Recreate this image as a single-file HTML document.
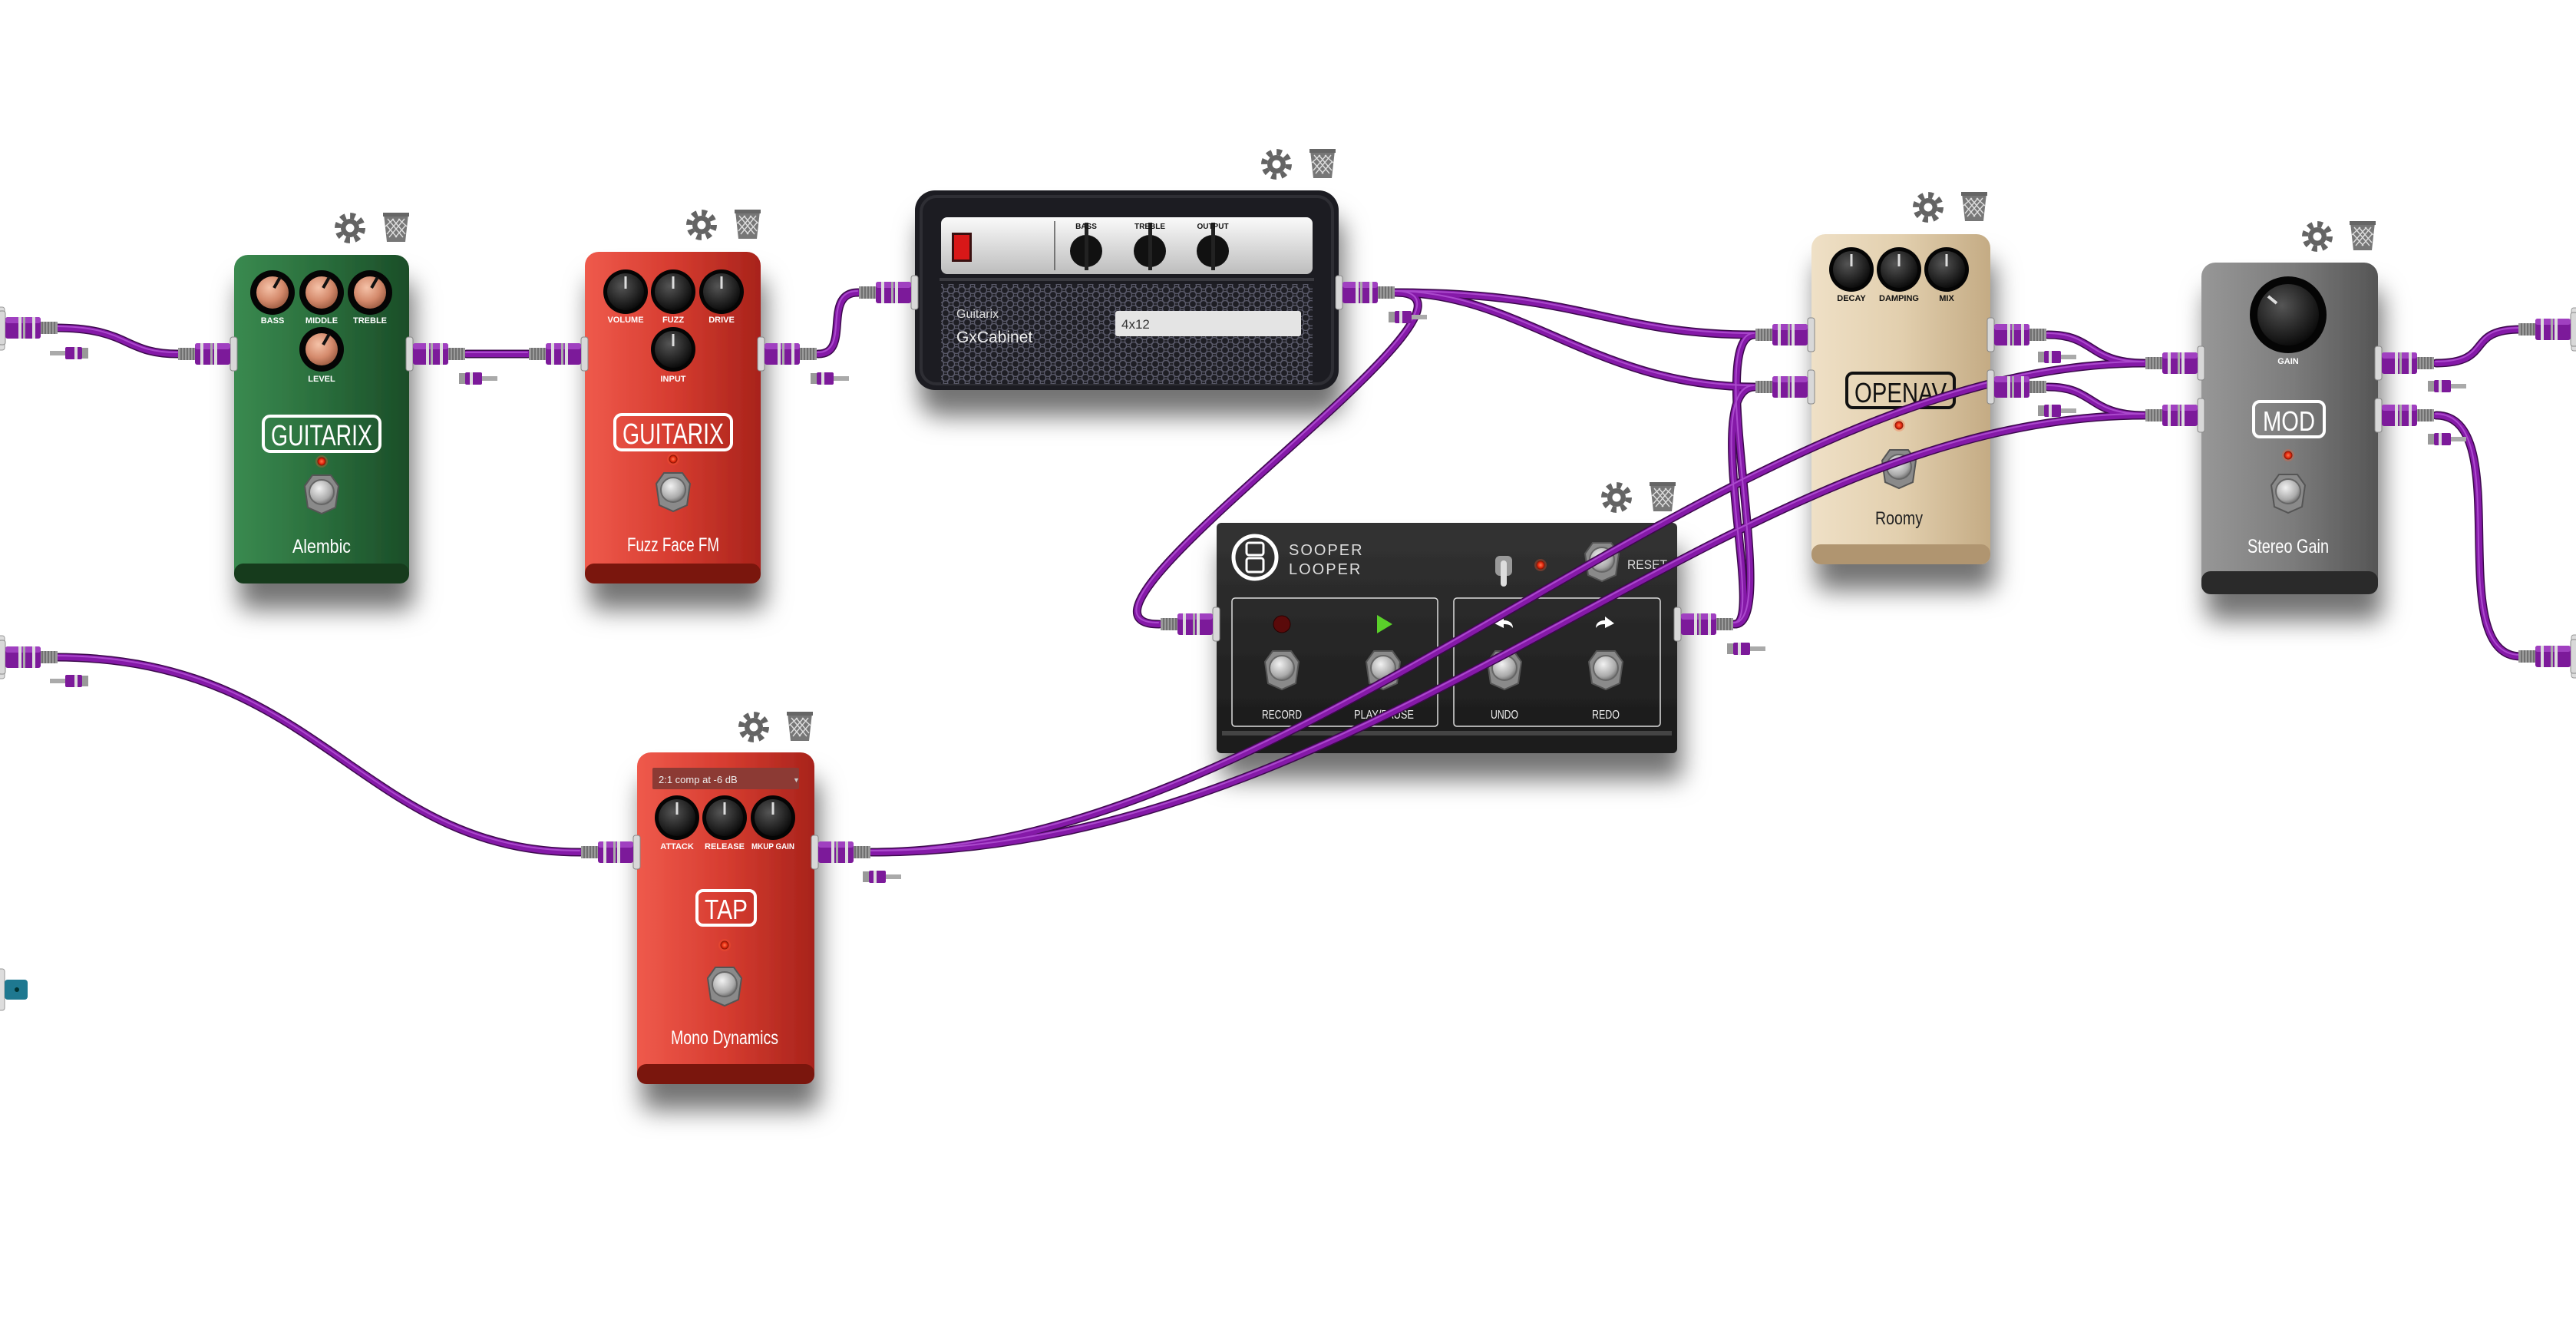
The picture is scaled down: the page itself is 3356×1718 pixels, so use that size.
<!DOCTYPE html>
<html><head><meta charset="utf-8">
<style>
html,body{margin:0;padding:0;background:#fff;}
svg{display:block;}
text{font-family:"Liberation Sans",sans-serif;}
.lbl{fill:#fff;font-size:11px;text-anchor:middle;font-weight:bold}
</style></head>
<body>
<svg width="3356" height="1718" viewBox="0 0 3356 1718" xmlns="http://www.w3.org/2000/svg">
<defs>
<filter id="sh" x="-30%" y="-20%" width="160%" height="160%">
<feDropShadow dx="6" dy="34" stdDeviation="16" flood-color="#000" flood-opacity="0.55"/>
</filter>
<linearGradient id="gGreen" x1="0" x2="1"><stop offset="0" stop-color="#3a8a50"/><stop offset=".5" stop-color="#2a6e3c"/><stop offset="1" stop-color="#1b4d28"/></linearGradient>
<linearGradient id="gRed" x1="0" x2="1"><stop offset="0" stop-color="#ef5a4c"/><stop offset=".5" stop-color="#d63c30"/><stop offset="1" stop-color="#a8231b"/></linearGradient>
<linearGradient id="gCream" x1="0" x2="1"><stop offset="0" stop-color="#efe0c6"/><stop offset=".5" stop-color="#e2cfae"/><stop offset="1" stop-color="#c4ab84"/></linearGradient>
<linearGradient id="gGray" x1="0" x2="1"><stop offset="0" stop-color="#979797"/><stop offset=".5" stop-color="#7d7d7d"/><stop offset="1" stop-color="#555"/></linearGradient>
<linearGradient id="gDark" x1="0" y1="0" x2="0" y2="1"><stop offset="0" stop-color="#333"/><stop offset="1" stop-color="#1a1a1a"/></linearGradient>
<linearGradient id="gSilver" x1="0" y1="0" x2="0" y2="1"><stop offset="0" stop-color="#fafafa"/><stop offset="1" stop-color="#bdbdbd"/></linearGradient>
<radialGradient id="gKnob" cx=".4" cy=".35" r=".7"><stop offset="0" stop-color="#555"/><stop offset="1" stop-color="#080808"/></radialGradient>
<radialGradient id="gCopper" cx=".4" cy=".35" r=".7"><stop offset="0" stop-color="#f5c2a8"/><stop offset=".6" stop-color="#d48a6c"/><stop offset="1" stop-color="#9a5a40"/></radialGradient>
<radialGradient id="gFoot" cx=".4" cy=".35" r=".7"><stop offset="0" stop-color="#f2f2f2"/><stop offset=".7" stop-color="#aaa"/><stop offset="1" stop-color="#666"/></radialGradient>
<radialGradient id="gLed" cx=".5" cy=".5" r=".5"><stop offset="0" stop-color="#ff7a50"/><stop offset=".6" stop-color="#e52a10"/><stop offset="1" stop-color="#7a1000"/></radialGradient>
<pattern id="hex" width="14" height="12" patternUnits="userSpaceOnUse"><rect width="14" height="12" fill="#1e1e24"/><circle cx="7" cy="6" r="4.5" fill="none" stroke="#5a5a6a" stroke-width="1.3"/><circle cx="0" cy="0" r="4.5" fill="none" stroke="#5a5a6a" stroke-width="1.3"/><circle cx="14" cy="0" r="4.5" fill="none" stroke="#5a5a6a" stroke-width="1.3"/><circle cx="0" cy="12" r="4.5" fill="none" stroke="#5a5a6a" stroke-width="1.3"/><circle cx="14" cy="12" r="4.5" fill="none" stroke="#5a5a6a" stroke-width="1.3"/></pattern>

<g id="kb"><circle r="29" fill="#050505"/><circle r="24" fill="url(#gKnob)"/><line x1="0" y1="-4" x2="0" y2="-20" stroke="#ddd" stroke-width="3"/></g>
<g id="kc"><circle r="29" fill="#050505"/><circle r="21" fill="url(#gCopper)"/><line x1="2" y1="-6" x2="10" y2="-20" stroke="#111" stroke-width="4"/></g>
<g id="fs"><polygon points="-22,-10 -12,-24 12,-24 22,-10 18,18 0,26 -18,18" fill="#8a8a8a" stroke="#555" stroke-width="2"/><circle r="16" cy="-2" fill="url(#gFoot)" stroke="#666" stroke-width="2"/></g>
<g id="led"><circle r="8" fill="#ff5a30" opacity=".3"/><circle r="5.5" fill="url(#gLed)"/></g>
<g id="plug">
<rect x="-4" y="-22" width="9" height="44" rx="3" fill="#d8d8d8" stroke="#888"/>
<rect x="5" y="-14" width="46" height="28" rx="3" fill="#7c1a9a"/>
<rect x="5" y="-14" width="46" height="8" rx="3" fill="#a040c0"/>
<rect x="22" y="-14" width="4" height="28" fill="#ddd"/><rect x="28" y="-14" width="3" height="28" fill="#aaa"/>
<rect x="40" y="-14" width="4" height="28" fill="#ddd"/>
<rect x="51" y="-8" width="22" height="16" fill="#9a9a9a"/>
<path d="M53 -8v16M57 -8v16M61 -8v16M65 -8v16M69 -8v16" stroke="#555" stroke-width="1.2"/>
</g>
<g id="sp">
<rect x="0" y="-7" width="8" height="14" fill="#999"/>
<rect x="8" y="-8" width="22" height="16" rx="2" fill="#7c1a9a"/>
<rect x="14" y="-8" width="4" height="16" fill="#ddd"/>
<rect x="30" y="-3" width="20" height="6" fill="#aaa"/>
</g>
<g id="gear" fill="#646464">
<circle r="12"/><circle r="16" fill="none" stroke="#646464" stroke-width="8" stroke-dasharray="6.5 6.07"/>
<circle r="5.5" fill="#fff"/>
</g>
<g id="trash">
<path d="M-16,-18 H16 L12,18 H-12 Z" fill="#777"/>
<rect x="-17" y="-20" width="34" height="5" fill="#666"/>
<path d="M-11,-12 L9,12 M-5,-12 L12,8 M3,-12 L14,-2 M-13,-4 L1,12 M11,-12 L-9,12 M5,-12 L-12,8 M-3,-12 L-14,-2 M13,-4 L-1,12" stroke="#ddd" stroke-width="1.4"/>
</g>
<g id="cables" fill="none">
<path fill="none" d="M72,427 C170,427 160,461 232,461"/>
<path fill="none" d="M608,461 C650,461 640,461 688,461"/>
<path fill="none" d="M1066,461 C1110,461 1070,381 1118,381"/>
<path fill="none" d="M1818,381 C2060,381 2100,436 2286,436"/>
<path fill="none" d="M1818,381 C1980,381 2080,504 2286,504"/>
<path fill="none" d="M1818,381 C1990,381 1340,813 1510,813"/>
<path fill="none" d="M2260,813 C2320,813 2220,436 2286,436"/>
<path fill="none" d="M2260,813 C2300,813 2215,504 2286,504"/>
<path fill="none" d="M2668,436 C2730,436 2720,473 2794,473"/>
<path fill="none" d="M2668,504 C2730,504 2720,541 2794,541"/>
<path fill="none" d="M1136,1110 C1700,1110 2250,473 2794,473"/>
<path fill="none" d="M1136,1110 C1800,1110 2250,541 2794,541"/>
<path fill="none" d="M72,856 C420,856 470,1110 756,1110"/>
<path fill="none" d="M3174,473 C3250,473 3210,429 3284,429"/>
<path fill="none" d="M3174,541 C3280,541 3180,855 3284,855"/>
</g>
</defs>

<!-- Alembic -->
<g filter="url(#sh)">
<rect x="305" y="332" width="228" height="428" rx="18" fill="url(#gGreen)"/>
<rect x="305" y="734" width="228" height="26" rx="12" fill="#143a1e"/>
</g>
<use href="#kc" x="355" y="381"/><use href="#kc" x="419" y="381"/><use href="#kc" x="482" y="381"/><use href="#kc" x="419" y="455"/>
<text class="lbl" x="355" y="421">BASS</text><text class="lbl" x="419" y="421">MIDDLE</text><text class="lbl" x="482" y="421">TREBLE</text><text class="lbl" x="419" y="497">LEVEL</text>
<rect x="343" y="542" width="152" height="46" rx="9" fill="none" stroke="#fff" stroke-width="4"/>
<text x="419" y="580" fill="#fff" font-size="38" text-anchor="middle" textLength="132" lengthAdjust="spacingAndGlyphs">GUITARIX</text>
<use href="#led" x="419" y="601"/><use href="#fs" x="419" y="643"/>
<text x="419" y="720" fill="#fff" font-size="25" text-anchor="middle" textLength="76" lengthAdjust="spacingAndGlyphs">Alembic</text>
<use href="#gear" x="456" y="297"/><use href="#trash" x="516" y="297"/>

<!-- Fuzz Face -->
<g filter="url(#sh)">
<rect x="762" y="328" width="229" height="432" rx="18" fill="url(#gRed)"/>
<rect x="762" y="734" width="229" height="26" rx="12" fill="#7a130c"/>
</g>
<use href="#kb" x="815" y="380"/><use href="#kb" x="877" y="380"/><use href="#kb" x="940" y="380"/><use href="#kb" x="877" y="455"/>
<text class="lbl" x="815" y="420">VOLUME</text><text class="lbl" x="877" y="420">FUZZ</text><text class="lbl" x="940" y="420">DRIVE</text><text class="lbl" x="877" y="497">INPUT</text>
<rect x="801" y="540" width="152" height="46" rx="9" fill="none" stroke="#fff" stroke-width="4"/>
<text x="877" y="578" fill="#fff" font-size="38" text-anchor="middle" textLength="132" lengthAdjust="spacingAndGlyphs">GUITARIX</text>
<use href="#led" x="877" y="598"/><use href="#fs" x="877" y="640"/>
<text x="877" y="718" fill="#fff" font-size="25" text-anchor="middle" textLength="120" lengthAdjust="spacingAndGlyphs">Fuzz Face FM</text>
<use href="#gear" x="914" y="293"/><use href="#trash" x="974" y="293"/>

<!-- GxCabinet -->
<g filter="url(#sh)">
<rect x="1192" y="248" width="552" height="260" rx="26" fill="#1c1c20"/>
</g>
<rect x="1200" y="256" width="536" height="244" rx="20" fill="none" stroke="#2e2e34" stroke-width="4"/>
<rect x="1226" y="283" width="484" height="74" rx="8" fill="url(#gSilver)"/>
<rect x="1240" y="303" width="26" height="38" fill="#3a1010"/><rect x="1243" y="306" width="20" height="32" fill="#d81818"/>
<line x1="1374" y1="288" x2="1374" y2="352" stroke="#555" stroke-width="1.5"/>
<g><circle cx="1415" cy="327" r="21" fill="#111"/><rect x="1413" y="290" width="5" height="62" fill="#222"/>
<circle cx="1498" cy="327" r="21" fill="#111"/><rect x="1496" y="290" width="5" height="62" fill="#222"/>
<circle cx="1580" cy="327" r="21" fill="#111"/><rect x="1578" y="290" width="5" height="62" fill="#222"/></g>
<text x="1415" y="298" fill="#111" font-size="10" text-anchor="middle" font-weight="bold">BASS</text>
<text x="1498" y="298" fill="#111" font-size="10" text-anchor="middle" font-weight="bold">TREBLE</text>
<text x="1580" y="298" fill="#111" font-size="10" text-anchor="middle" font-weight="bold">OUTPUT</text>
<rect x="1224" y="362" width="488" height="4" fill="#3a3a40"/>
<rect x="1226" y="370" width="484" height="130" fill="url(#hex)"/>
<text x="1246" y="414" fill="#ddd" font-size="16">Guitarix</text>
<text x="1246" y="446" fill="#eee" font-size="21">GxCabinet</text>
<rect x="1453" y="405" width="242" height="33" rx="3" fill="#e4e4e4"/>
<text x="1461" y="428" fill="#333" font-size="17">4x12</text>
<use href="#gear" x="1663" y="214"/><use href="#trash" x="1723" y="214"/>

<!-- Roomy -->
<g filter="url(#sh)">
<rect x="2360" y="305" width="233" height="430" rx="18" fill="url(#gCream)"/>
<rect x="2360" y="709" width="233" height="26" rx="12" fill="#b09570"/>
</g>
<use href="#kb" x="2412" y="351"/><use href="#kb" x="2474" y="351"/><use href="#kb" x="2536" y="351"/>
<text x="2412" y="392" fill="#111" font-size="11" text-anchor="middle" font-weight="bold">DECAY</text>
<text x="2474" y="392" fill="#111" font-size="11" text-anchor="middle" font-weight="bold">DAMPING</text>
<text x="2536" y="392" fill="#111" font-size="11" text-anchor="middle" font-weight="bold">MIX</text>
<rect x="2406" y="486" width="140" height="45" rx="8" fill="none" stroke="#111" stroke-width="4"/>
<text x="2476" y="524" fill="#111" font-size="36" text-anchor="middle" textLength="120" lengthAdjust="spacingAndGlyphs">OPENAV</text>
<use href="#led" x="2474" y="554"/><use href="#fs" x="2474" y="610"/>
<text x="2474" y="683" fill="#222" font-size="24" text-anchor="middle" textLength="62" lengthAdjust="spacingAndGlyphs">Roomy</text>
<use href="#gear" x="2512" y="270"/><use href="#trash" x="2572" y="270"/>

<!-- Stereo Gain -->
<g filter="url(#sh)">
<rect x="2868" y="342" width="230" height="432" rx="18" fill="url(#gGray)"/>
<rect x="2868" y="744" width="230" height="30" rx="12" fill="#2a2a2a"/>
</g>
<circle cx="2981" cy="410" r="50" fill="#050505"/><circle cx="2981" cy="410" r="40" fill="url(#gKnob)"/>
<line x1="2966" y1="395" x2="2955" y2="386" stroke="#ddd" stroke-width="4"/>
<text class="lbl" x="2981" y="474" font-size="13">GAIN</text>
<rect x="2936" y="523" width="92" height="46" rx="8" fill="none" stroke="#fff" stroke-width="4"/>
<text x="2982" y="561" fill="#fff" font-size="36" text-anchor="middle" textLength="68" lengthAdjust="spacingAndGlyphs">MOD</text>
<use href="#led" x="2981" y="593"/><use href="#fs" x="2981" y="642"/>
<text x="2981" y="720" fill="#fff" font-size="25" text-anchor="middle" textLength="106" lengthAdjust="spacingAndGlyphs">Stereo Gain</text>
<use href="#gear" x="3019" y="308"/><use href="#trash" x="3078" y="308"/>

<!-- Sooper Looper -->
<g filter="url(#sh)">
<rect x="1585" y="681" width="600" height="300" rx="6" fill="url(#gDark)"/>
</g>
<rect x="1592" y="952" width="586" height="6" fill="#444"/>
<circle cx="1635" cy="726" r="28" fill="none" stroke="#fff" stroke-width="5"/>
<rect x="1624" y="707" width="22" height="16" rx="3" fill="none" stroke="#fff" stroke-width="3"/>
<rect x="1624" y="727" width="22" height="18" rx="3" fill="none" stroke="#fff" stroke-width="3"/>
<text x="1679" y="723" fill="#ddd" font-size="20" letter-spacing="2">SOOPER</text>
<text x="1679" y="748" fill="#ddd" font-size="20" letter-spacing="2">LOOPER</text>
<rect x="1948" y="724" width="22" height="26" rx="6" fill="#999"/><rect x="1955" y="730" width="8" height="34" rx="4" fill="#ddd"/>
<use href="#led" x="2007" y="736"/>
<use href="#fs" x="2087" y="731"/>
<text x="2120" y="741" fill="#ddd" font-size="17" textLength="52" lengthAdjust="spacingAndGlyphs">RESET</text>
<rect x="1605" y="779" width="268" height="167" rx="4" fill="none" stroke="#ddd" stroke-width="1.5"/>
<rect x="1894" y="779" width="269" height="167" rx="4" fill="none" stroke="#ddd" stroke-width="1.5"/>
<circle cx="1670" cy="813" r="11" fill="#5a0a0a" stroke="#2a0000"/>
<polygon points="1794,801 1814,813 1794,825" fill="#5ad02a"/>
<path d="M1947,812 l12,-9 v5 c8,0 12,4 12,10 c-3,-4 -6,-5 -12,-5 v5 z" fill="#fff"/>
<path d="M2103,812 l-12,-9 v5 c-8,0 -12,4 -12,10 c3,-4 6,-5 12,-5 v5 z" fill="#fff"/>
<use href="#fs" x="1670" y="872"/><use href="#fs" x="1802" y="872"/><use href="#fs" x="1960" y="872"/><use href="#fs" x="2092" y="872"/>
<text x="1670" y="936" fill="#eee" font-size="16" text-anchor="middle" textLength="52" lengthAdjust="spacingAndGlyphs">RECORD</text>
<text x="1803" y="936" fill="#eee" font-size="16" text-anchor="middle" textLength="78" lengthAdjust="spacingAndGlyphs">PLAY/PAUSE</text>
<text x="1960" y="936" fill="#eee" font-size="16" text-anchor="middle" textLength="36" lengthAdjust="spacingAndGlyphs">UNDO</text>
<text x="2092" y="936" fill="#eee" font-size="16" text-anchor="middle" textLength="36" lengthAdjust="spacingAndGlyphs">REDO</text>
<use href="#gear" x="2106" y="648"/><use href="#trash" x="2166" y="648"/>

<!-- TAP Mono Dynamics -->
<g filter="url(#sh)">
<rect x="830" y="980" width="231" height="432" rx="18" fill="url(#gRed)"/>
<rect x="830" y="1386" width="231" height="26" rx="12" fill="#7a130c"/>
</g>
<rect x="850" y="1000" width="191" height="28" rx="2" fill="#8c3a34"/>
<text x="858" y="1020" fill="#eee" font-size="13">2:1 comp at -6 dB</text>
<text x="1033" y="1019" fill="#ccc" font-size="9">▼</text>
<use href="#kb" x="882" y="1065"/><use href="#kb" x="944" y="1065"/><use href="#kb" x="1007" y="1065"/>
<text class="lbl" x="882" y="1106">ATTACK</text><text class="lbl" x="944" y="1106">RELEASE</text><text class="lbl" x="1007" y="1106" textLength="56" lengthAdjust="spacingAndGlyphs">MKUP GAIN</text>
<rect x="908" y="1160" width="76" height="45" rx="8" fill="none" stroke="#fff" stroke-width="4"/>
<text x="946" y="1197" fill="#fff" font-size="36" text-anchor="middle" textLength="56" lengthAdjust="spacingAndGlyphs">TAP</text>
<use href="#led" x="944" y="1231"/><use href="#fs" x="944" y="1284"/>
<text x="944" y="1360" fill="#fff" font-size="25" text-anchor="middle" textLength="140" lengthAdjust="spacingAndGlyphs">Mono Dynamics</text>
<use href="#gear" x="982" y="947"/><use href="#trash" x="1042" y="947"/>

<!-- CABLES -->
<use href="#cables" stroke="#3c0a4c" stroke-width="11" stroke-linecap="round" fill="none"/>
<use href="#cables" stroke="#8519a8" stroke-width="8" stroke-linecap="round" fill="none"/>
<use href="#cables" stroke="#b455d6" stroke-width="2" stroke-linecap="round" fill="none" opacity=".8" transform="translate(-1,-2)"/>

<!-- PLUGS -->
<rect x="-4" y="400" width="10" height="56" rx="3" fill="#ddd" stroke="#999"/><use href="#plug" x="2" y="427"/>
<rect x="-4" y="828" width="10" height="56" rx="3" fill="#ddd" stroke="#999"/><use href="#plug" x="2" y="856"/>
<use href="#sp" transform="translate(115 460) scale(-1 1)"/>
<use href="#sp" transform="translate(115 887) scale(-1 1)"/>
<rect x="-4" y="1262" width="10" height="54" rx="3" fill="#ddd" stroke="#999"/>
<rect x="6" y="1276" width="30" height="26" rx="4" fill="#1e7890"/><circle cx="22" cy="1289" r="3" fill="#033"/>
<g transform="translate(3356 0) scale(-1 1)">
<rect x="-4" y="401" width="10" height="56" rx="3" fill="#ddd" stroke="#999"/><use href="#plug" x="2" y="429"/>
<rect x="-4" y="827" width="10" height="56" rx="3" fill="#ddd" stroke="#999"/><use href="#plug" x="2" y="855"/>
</g>
<use href="#plug" transform="translate(305 461) scale(-1 1)"/>
<use href="#plug" transform="translate(762 461) scale(-1 1)"/>
<use href="#plug" transform="translate(1192 381) scale(-1 1)"/>
<use href="#plug" transform="translate(2360 436) scale(-1 1)"/>
<use href="#plug" transform="translate(2360 504) scale(-1 1)"/>
<use href="#plug" transform="translate(2868 473) scale(-1 1)"/>
<use href="#plug" transform="translate(2868 541) scale(-1 1)"/>
<use href="#plug" transform="translate(1585 813) scale(-1 1)"/>
<use href="#plug" transform="translate(830 1110) scale(-1 1)"/>
<use href="#plug" x="533" y="461"/><use href="#sp" x="598" y="493"/>
<use href="#plug" x="991" y="461"/><use href="#sp" x="1056" y="493"/>
<use href="#plug" x="1744" y="381"/><use href="#sp" x="1809" y="413"/>
<use href="#plug" x="2593" y="436"/><use href="#sp" x="2655" y="465"/>
<use href="#plug" x="2593" y="504"/><use href="#sp" x="2655" y="535"/>
<use href="#plug" x="3098" y="473"/><use href="#sp" x="3163" y="503"/>
<use href="#plug" x="3098" y="541"/><use href="#sp" x="3163" y="572"/>
<use href="#plug" x="2185" y="813"/><use href="#sp" x="2250" y="845"/>
<use href="#plug" x="1061" y="1110"/><use href="#sp" x="1124" y="1142"/>
</svg>
</body></html>
